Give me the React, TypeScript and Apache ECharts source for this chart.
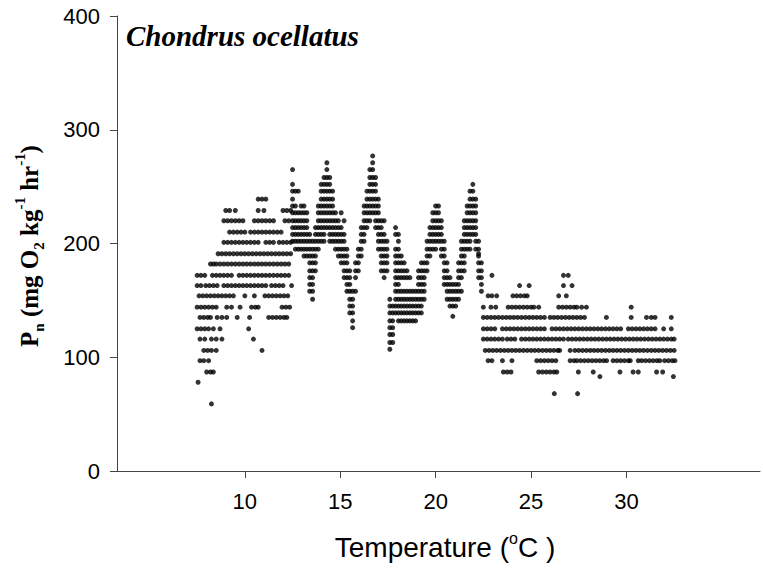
import React, { useEffect, useRef } from "react";
import * as echarts from "echarts";

// Axis ticks
const xTicks = [10, 15, 20, 25, 30];

// Region A (7.5–12.5 °C): horizontal rows of points, one Pn level per row
const levelsA = [239, 229, 220, 210, 201, 191, 182, 172, 163, 154, 144, 135, 125, 116, 106, 97, 87, 78, 59];
const tempsA = [
  [10.7, 10.9, 11.1],
  [9.0, 9.2, 9.5, 10.7, 11.0, 12.0, 12.2, 12.4],
  [8.9, 9.1, 9.3, 9.5, 9.7, 9.9, 10.5, 10.7, 10.9, 11.1, 11.3, 11.5, 12.1, 12.3],
  [9.2, 9.4, 9.6, 9.8, 10.0, 10.3, 10.5, 10.7, 10.9, 11.1, 11.3, 11.5, 11.7, 11.9],
  [8.9, 9.1, 9.3, 9.5, 9.7, 9.9, 10.1, 10.3, 10.5, 10.7, 11.1, 11.3, 11.5, 11.8, 12.0, 12.2, 12.4],
  [8.6, 8.8, 9.0, 9.2, 9.4, 9.6, 9.8, 10.0, 10.2, 10.4, 10.6, 10.8, 11.0, 11.2, 11.4, 11.6, 11.8, 12.0, 12.2, 12.4],
  [8.2, 8.35, 8.5, 8.7, 8.9, 9.1, 9.3, 9.5, 9.7, 9.9, 10.1, 10.3, 10.5, 10.7, 10.9, 11.1, 11.3, 11.5, 11.7, 11.9, 12.1, 12.3],
  [7.5, 7.7, 7.9, 8.3, 8.5, 8.7, 8.9, 9.1, 9.3, 9.7, 9.9, 10.1, 10.3, 10.5, 10.7, 10.9, 11.1, 11.3, 11.5, 11.7, 11.9, 12.1, 12.3],
  [7.5, 7.7, 7.95, 8.15, 8.35, 8.55, 8.9, 9.1, 9.3, 9.5, 9.7, 9.9, 10.1, 10.3, 10.5, 10.7, 10.9, 11.1, 11.4, 11.6, 11.8, 12.0, 12.45],
  [7.6, 7.8, 8.0, 8.2, 8.4, 8.6, 8.8, 9.0, 9.2, 9.4, 10.0, 10.5, 11.05, 11.25, 11.45, 11.65, 11.85, 12.05, 12.25],
  [7.5, 7.7, 7.9, 8.1, 8.3, 8.5, 9.05, 9.3, 9.75, 10.35, 10.55, 10.7, 11.95, 12.15, 12.35],
  [7.65, 7.85, 8.05, 8.2, 8.55, 8.8, 9.05, 9.6, 10.25, 11.25, 11.45, 11.65, 11.85, 12.05, 12.2],
  [7.5, 7.7, 7.9, 8.1, 8.35, 8.7, 10.2],
  [7.65, 7.9, 8.25, 8.5, 8.8, 10.45],
  [7.85, 8.05, 8.25, 8.5, 10.9],
  [7.65, 7.85, 8.1],
  [8.0, 8.2, 8.35],
  [7.55],
  [8.25],
];

// Region B (12.5–22.5 °C): oscillating columns, one temperature per column
const waveTemps = [
  12.5, 12.65, 12.8, 12.95, 13.1, 13.25, 13.4, 13.55, 13.7, 13.85,
  14.0, 14.15, 14.3, 14.45, 14.6, 14.75, 14.9, 15.05, 15.2, 15.35,
  15.5, 15.65, 15.8, 15.95, 16.1, 16.25, 16.4, 16.55, 16.7, 16.85,
  17.0, 17.15, 17.3, 17.45, 17.6, 17.75, 17.9, 18.05, 18.2, 18.35,
  18.5, 18.65, 18.8, 18.95, 19.1, 19.25, 19.4, 19.55, 19.7, 19.85,
  20.0, 20.15, 20.3, 20.45, 20.6, 20.75, 20.9, 21.05, 21.2, 21.35,
  21.5, 21.65, 21.8, 21.95, 22.1, 22.25, 22.4,
];
const wavePn = [
  [265, 252, 246, 239, 233, 227, 220, 214, 208, 202],
  [246, 233, 227, 220, 214, 208, 202, 195],
  [246, 227, 220, 214, 208, 202, 195],
  [233, 227, 220, 214, 208, 202, 195],
  [233, 227, 220, 214, 208, 202, 195, 189],
  [227, 220, 214, 208, 202, 195, 189],
  [208, 202, 195, 189, 183, 176, 170, 164, 158],
  [202, 195, 189, 183, 176, 170, 164, 158, 151],
  [214, 208, 202, 195, 189, 183, 176],
  [233, 227, 220, 214, 208, 202, 195],
  [252, 246, 239, 233, 227, 220, 214, 208, 202],
  [258, 252, 246, 239, 233, 227, 220, 214, 208, 202],
  [271, 265, 258, 252, 246, 239, 233, 227, 220, 214],
  [258, 252, 246, 239, 233, 227, 220, 214, 208, 202],
  [246, 239, 233, 227, 220, 214, 208, 202],
  [227, 220, 214, 208, 202, 195],
  [220, 214, 208, 202, 195, 189],
  [227, 214, 208, 202, 195, 189, 183],
  [220, 208, 202, 195, 189, 183, 176, 170],
  [195, 189, 183, 176, 170, 164, 158],
  [176, 170, 164, 158, 151, 145, 139],
  [158, 151, 145, 139, 132, 126],
  [183, 176, 170, 158],
  [195, 189, 183, 176],
  [214, 208, 202, 195, 189],
  [233, 227, 220, 214, 208, 202],
  [246, 239, 233, 227, 220, 214],
  [265, 258, 252, 246, 239, 233, 227, 220],
  [277, 271, 265, 258, 252, 246, 239, 233, 227],
  [258, 252, 246, 239, 233, 227, 220, 214],
  [239, 233, 227, 220, 214, 208, 202, 195],
  [220, 214, 208, 202, 195, 189, 183, 176],
  [220, 208, 202, 195, 189, 183, 176, 170],
  [202, 195, 189, 183, 176],
  [151, 145, 139, 132, 126, 120, 113, 107],
  [145, 139, 132, 126, 120, 113],
  [214, 208, 195, 189, 183, 176, 170, 164, 158, 151, 145, 139],
  [208, 202, 195, 189, 183, 176, 170, 164, 158, 151, 145, 139, 132],
  [189, 183, 176, 170, 158, 151, 145, 139, 132],
  [183, 176, 170, 158, 151, 145, 139, 132],
  [176, 170, 158, 151, 145, 139, 132],
  [170, 158, 151, 145, 139, 132],
  [158, 151, 145, 139, 132],
  [158, 151, 145, 139, 132],
  [176, 170, 164, 158, 151, 145, 139],
  [183, 176, 170, 164, 158, 151, 145, 139],
  [183, 176, 170, 164, 158, 151],
  [202, 195, 189, 183, 176],
  [214, 208, 202, 195, 189],
  [227, 220, 214, 208, 202, 195],
  [233, 227, 220, 214, 208, 202, 195],
  [233, 227, 220, 214, 208, 202],
  [220, 214, 208, 202, 195, 189],
  [202, 195, 189, 183, 176, 170, 164],
  [183, 176, 170, 164, 158, 151],
  [170, 164, 158, 151, 145],
  [164, 158, 151, 145, 136],
  [164, 158, 151, 145],
  [183, 176, 170, 164, 158, 151],
  [202, 195, 189, 183, 176, 170, 158],
  [220, 214, 208, 202, 195, 189, 183, 176],
  [233, 227, 220, 214, 208, 202, 195],
  [246, 239, 233, 227, 220, 214, 208, 202, 195],
  [252, 246, 239, 233, 227, 220, 214, 208],
  [239, 233, 227, 220, 214, 208, 202, 195],
  [202, 195, 191, 189, 183, 176, 170],
  [183, 176, 170, 164, 158],
];

// Regions C and D (22.5–32.5 °C): horizontal rows again
const levelsCD = [172, 163, 154, 144, 135, 125, 116, 106, 97, 87, 83, 68];
const tempsCD = [
  [22.95, 26.7, 26.95],
  [24.4, 24.9, 26.7, 27.15],
  [22.75, 22.95, 23.2, 24.05, 24.25, 24.45, 24.65, 24.8, 26.45, 26.85],
  [22.5, 22.9, 23.15, 23.8, 24.0, 24.2, 24.4, 24.6, 24.8, 25.0, 25.15, 25.4, 26.45, 26.65, 26.85, 27.05, 27.25, 27.4, 27.65, 27.9, 30.25],
  [22.5, 22.7, 22.9, 23.1, 23.3, 23.5, 23.7, 23.9, 24.1, 24.3, 24.5, 24.7, 24.9, 25.1, 25.3, 25.5, 25.7, 26.0, 26.2, 26.4, 26.6, 26.8, 27.0, 27.2, 27.4, 27.6, 27.8, 28.95, 30.25, 31.05, 31.3, 31.5, 32.35],
  [22.5, 22.7, 22.9, 23.1, 23.5, 23.7, 23.9, 24.1, 24.3, 24.5, 24.7, 24.9, 25.1, 25.3, 25.5, 25.7, 26.1, 26.3, 26.5, 26.7, 26.9, 27.1, 27.3, 27.5, 27.7, 27.9, 28.1, 28.3, 28.5, 28.7, 28.9, 29.1, 29.3, 29.5, 29.7, 30.1, 30.3, 30.5, 30.7, 30.9, 31.1, 31.3, 31.5, 31.95, 32.35],
  [22.5, 22.7, 22.9, 23.1, 23.3, 23.5, 23.75, 23.95, 24.15, 24.5, 24.7, 24.9, 25.1, 25.3, 25.5, 25.7, 25.9, 26.1, 26.3, 26.5, 26.7, 26.95, 27.15, 27.35, 27.55, 27.75, 27.95, 28.15, 28.35, 28.55, 28.75, 28.95, 29.15, 29.35, 29.55, 29.75, 29.95, 30.15, 30.35, 30.55, 30.75, 30.95, 31.15, 31.35, 31.55, 31.75, 31.95, 32.15, 32.35, 32.5],
  [22.6, 22.8, 23.0, 23.2, 23.4, 23.6, 23.8, 24.0, 24.2, 24.4, 24.6, 24.8, 25.0, 25.2, 25.4, 25.6, 25.8, 26.0, 26.2, 26.4, 26.5, 27.05, 27.3, 27.5, 27.7, 27.9, 28.1, 28.3, 28.5, 28.7, 28.9, 29.1, 29.3, 29.5, 29.7, 29.9, 30.1, 30.3, 30.5, 30.7, 30.9, 31.1, 31.3, 31.5, 31.7, 31.9, 32.1, 32.3, 32.5],
  [22.75, 22.95, 23.5, 24.0, 25.3, 25.5, 25.7, 25.9, 26.1, 26.3, 27.05, 27.25, 27.4, 27.6, 27.8, 28.0, 28.2, 28.4, 28.6, 28.8, 28.96, 29.3, 29.5, 29.7, 29.9, 30.1, 30.2, 30.62, 30.8, 31.0, 31.2, 31.4, 31.6, 31.75, 32.0, 32.2, 32.4, 32.54],
  [23.55, 23.75, 23.95, 25.4, 25.6, 25.8, 26.0, 26.2, 26.35, 27.48, 28.26, 29.66, 30.35, 30.62, 31.58, 31.9],
  [28.61, 32.46],
  [26.22, 27.44],
];

function buildPoints(): number[][] {
  const pts: number[][] = [];
  levelsA.forEach((pn, i) => tempsA[i].forEach((t) => pts.push([t, pn])));
  waveTemps.forEach((t, i) => (wavePn[i] || []).forEach((pn) => pts.push([t, pn])));
  levelsCD.forEach((pn, i) => tempsCD[i].forEach((t) => pts.push([t, pn])));
  return pts;
}

export default function App() {
  const ref = useRef<HTMLDivElement>(null);

  useEffect(() => {
    if (!ref.current) return;
    const chart = echarts.init(ref.current, null, { renderer: "svg" });
    const axisColor = "#444";
    const serif = "'Liberation Serif', 'Times New Roman', serif";
    const sans = "'Liberation Sans', Arial, sans-serif";

    chart.setOption({
      animation: false,
      backgroundColor: "#fff",
      grid: { left: 117, top: 16, right: 3, bottom: 98, outerBoundsMode: "none" },
      xAxis: {
        type: "value",
        min: 3.3,
        max: 37,
        axisLine: { show: true, onZero: false, lineStyle: { color: axisColor, width: 1 } },
        axisTick: { show: true, length: 7, customValues: xTicks, lineStyle: { color: axisColor } },
        axisLabel: { customValues: xTicks, fontSize: 22, color: "#000", fontFamily: sans, margin: 19 },
        splitLine: { show: false },
      },
      yAxis: {
        type: "value",
        min: 0,
        max: 400,
        interval: 100,
        axisLine: { show: true, lineStyle: { color: axisColor, width: 1 } },
        axisTick: { show: true, length: 7, lineStyle: { color: axisColor } },
        axisLabel: { fontSize: 22, color: "#000", fontFamily: sans, margin: 17 },
        splitLine: { show: false },
      },
      series: [
        {
          type: "scatter",
          data: buildPoints(),
          symbol: "circle",
          symbolSize: 5,
          itemStyle: { color: "#000" },
        },
      ],
      graphic: [
        {
          type: "text",
          x: 126,
          y: 36,
          style: {
            text: "Chondrus ocellatus",
            fontFamily: serif,
            fontSize: 29,
            fontWeight: "bold",
            fontStyle: "italic",
            fill: "#000",
            align: "left",
            verticalAlign: "middle",
          },
        },
        {
          type: "text",
          x: 29,
          y: 246,
          rotation: Math.PI / 2,
          style: {
            text: "{b|P}{sub|n}{b| (mg O}{sub|2}{b| kg}{sup|-1}{b| hr}{sup|-1}{b|)}",
            align: "center",
            verticalAlign: "middle",
            rich: {
              b: { fontFamily: serif, fontWeight: "bold", fontSize: 25, lineHeight: 34, fill: "#000" },
              sub: { fontFamily: serif, fontWeight: "bold", fontSize: 15, lineHeight: 18, verticalAlign: "bottom", fill: "#000" },
              sup: { fontFamily: serif, fontWeight: "bold", fontSize: 15, lineHeight: 20, verticalAlign: "top", fill: "#000" },
            },
          },
        },
        {
          type: "text",
          x: 445,
          y: 547,
          style: {
            text: "{t|Temperature (}{sup|o}{t|C )}",
            align: "center",
            verticalAlign: "middle",
            rich: {
              t: { fontFamily: sans, fontSize: 28, lineHeight: 34, fill: "#000" },
              sup: { fontFamily: sans, fontSize: 16, lineHeight: 22, verticalAlign: "top", fill: "#000" },
            },
          },
        },
      ],
    });
    return () => chart.dispose();
  }, []);

  return (
    <div
      ref={ref}
      style={{ position: "fixed", left: 0, top: 0, width: 763, height: 569, background: "#fff" }}
    />
  );
}
